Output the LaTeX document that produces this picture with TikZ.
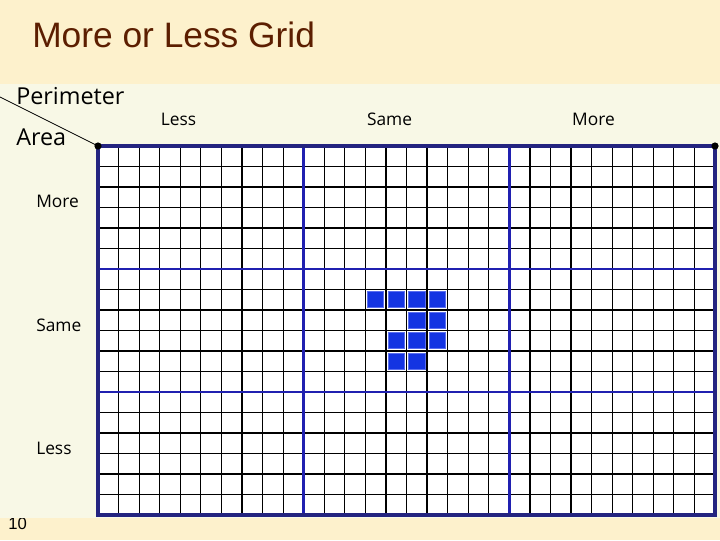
\documentclass[tikz,border=0pt]{standalone}
\usepackage{fontspec}
\setmainfont{Liberation Sans}
\newfontfamily\labelfont{Open Sans}
\usetikzlibrary{positioning}

\tikzset{
  headlabel/.style={font=\labelfont\fontsize{13}{15}\selectfont, inner sep=0pt, anchor=base},
  rowlabel/.style={font=\labelfont\fontsize{13}{15}\selectfont, inner sep=0pt, anchor=base west},
  axislabel/.style={font=\labelfont\fontsize{17.5}{20}\selectfont, inner sep=0pt, anchor=base west},
  thingrid/.style={color=black, line width=0.9pt},
  majorgrid/.style={color={rgb, 255:red, 32; green, 32; blue, 176}, line width=2.2pt},
  outergrid/.style={color={rgb, 255:red, 36; green, 36; blue, 128}, line width=2.4pt},
  cellfill/.style={fill={rgb, 255:red, 20; green, 52; blue, 226}, draw={rgb, 255:red, 90; green, 110; blue, 240}, line width=0.5pt}
}

\begin{document}
\begin{tikzpicture}[x=0.75pt,y=0.75pt,yscale=-1,xscale=1]
\useasboundingbox (0,0) rectangle (720,540);

%Shape: Rectangle [slide background]
\fill [color={rgb, 255:red, 253; green, 241; blue, 204}] (0,0) rectangle (720,540);

%Text Node [page number]
\node [font=\fontsize{12.5}{14}\selectfont, anchor=base west, inner sep=0pt] (pagenum) at (8,529) {10};

%Shape: Rectangle [panel]
\fill [color={rgb, 255:red, 248; green, 248; blue, 230}] (0,84) rectangle (720,518);

%Text Node [title]
\node [font=\fontsize{26.5}{30}\selectfont, text={rgb, 255:red, 92; green, 30; blue, 0}, anchor=base west, inner sep=0pt] (title) at (32,47) {More or Less Grid};

%Shape: Rectangle [grid area]
\fill [white] (98,146) rectangle (715,515);

%Straight Lines [thin columns]
\foreach \i in {1,...,29} {
  \draw [thingrid] ({98+\i*20.5667},146) -- ({98+\i*20.5667},515);
}
%Straight Lines [thin rows]
\foreach \j in {1,...,17} {
  \draw [thingrid] (98,{146+\j*20.5}) -- (715,{146+\j*20.5});
}

%Shape: Square [filled cells]
\foreach \c/\r in {13/7,14/7,15/7,16/7,15/8,16/8,14/9,15/9,16/9,14/10,15/10} {
  \filldraw [cellfill] ({98+\c*20.5667+2.2},{146+\r*20.5+2.2}) rectangle ++(16.2,16.1);
}

%Straight Lines [thirds]
\draw [majorgrid] (303.67,146) -- (303.67,515);
\draw [majorgrid] (509.33,146) -- (509.33,515);
\draw [majorgrid] (98,269) -- (715,269);
\draw [majorgrid] (98,392) -- (715,392);

%Shape: Rectangle [grid border]
\draw [outergrid] (98,146) rectangle (715,515);

%Shape: Circle [corner dots]
\coordinate (leftdot) at (98,146);
\coordinate (rightdot) at (715,146);
\coordinate (diagtop) at (0,97);
\draw [line width=0.6pt] (diagtop) -- (leftdot);
\fill (leftdot) circle (3.6);
\fill (rightdot) circle (3.6);

%Text Node [axes]
\node [axislabel] (perim) at (16,104) {Perimeter};
\node [axislabel] (area) at (16,145) {Area};

%Text Node [column heads]
\node [headlabel] (colless) at (178.5,125) {Less};
\node [headlabel] (colsame) at (389.5,125) {Same};
\node [headlabel] (colmore) at (593.5,125) {More};

%Text Node [row heads]
\node [rowlabel] (rowmore) at (36,207) {More};
\node [rowlabel] (rowsame) at (36,331) {Same};
\node [rowlabel] (rowless) at (36,454) {Less};

\end{tikzpicture}
\end{document}
